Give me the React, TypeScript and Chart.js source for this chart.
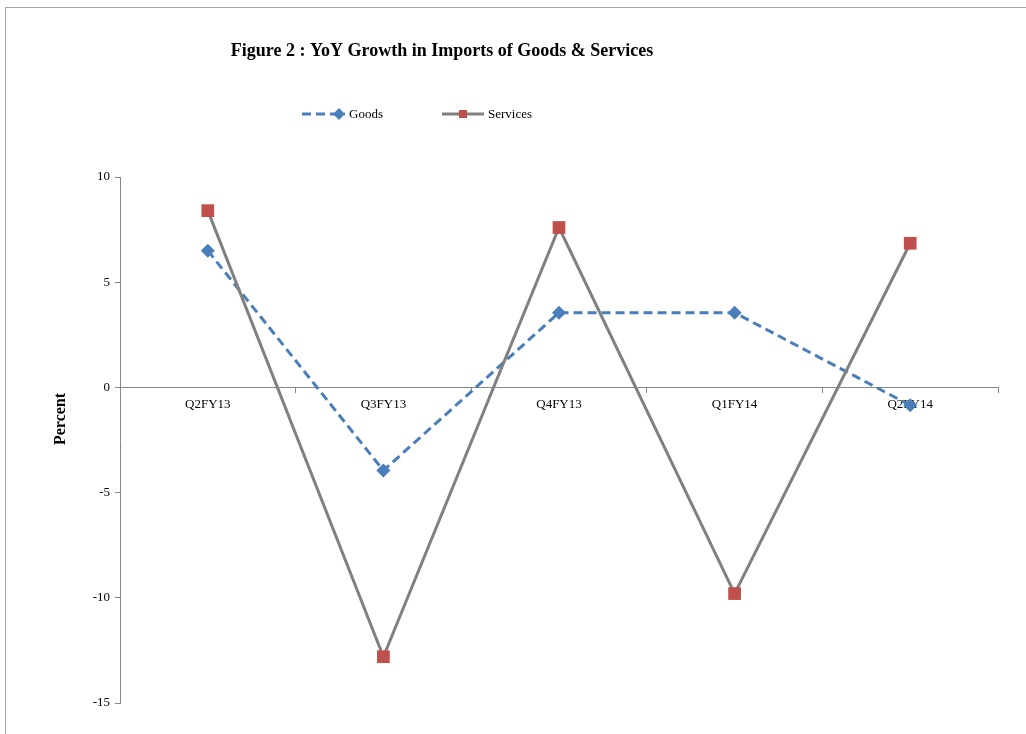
import React, { useEffect, useRef } from "react";
import { Chart, registerables } from "chart.js";

Chart.register(...registerables);

const categories = ["Q2FY13", "Q3FY13", "Q4FY13", "Q1FY14", "Q2FY14"];
const goods = [6.5, -3.95, 3.55, 3.55, -0.85];
const services = [8.4, -12.8, 7.6, -9.8, 6.85];
const titleText = "Figure 2 : YoY Growth in Imports of Goods & Services";
const yTitle = "Percent";
const yMin = -15;
const yMax = 10;
const yStep = 5;

const SERIF = "'Liberation Serif', 'Times New Roman', serif";

const overlayPlugin = {
  id: "overlay",
  afterDraw(chart: any) {
    const ctx = chart.ctx;
    ctx.save();
    // title
    ctx.fillStyle = "#000";
    ctx.font = `bold 18px ${SERIF}`;
    ctx.textAlign = "center";
    ctx.textBaseline = "middle";
    ctx.fillText(titleText, 442, 51);
    // y title
    ctx.save();
    ctx.translate(61, 419);
    ctx.rotate(-Math.PI / 2);
    ctx.font = `bold 16px ${SERIF}`;
    ctx.fillText(yTitle, 0, 0);
    ctx.restore();
    // legend
    const items = [
      { ds: 0, x0: 302, x1: 345, mx: 339, tx: 349 },
      { ds: 1, x0: 442, x1: 484, mx: 463, tx: 488 },
    ];
    const ly = 114;
    items.forEach((it) => {
      const ds = chart.data.datasets[it.ds];
      ctx.save();
      ctx.strokeStyle = ds.borderColor;
      ctx.lineWidth = ds.borderWidth;
      ctx.setLineDash(ds.borderDash || []);
      ctx.beginPath();
      ctx.moveTo(it.x0, ly);
      ctx.lineTo(it.x1, ly);
      ctx.stroke();
      ctx.setLineDash([]);
      ctx.fillStyle = ds.pointBackgroundColor;
      ctx.beginPath();
      if (ds.pointStyle === "rectRot") {
        const r = 6;
        ctx.moveTo(it.mx - r, ly);
        ctx.lineTo(it.mx, ly - r);
        ctx.lineTo(it.mx + r, ly);
        ctx.lineTo(it.mx, ly + r);
        ctx.closePath();
      } else {
        const h = 4;
        ctx.rect(it.mx - h, ly - h, 2 * h, 2 * h);
      }
      ctx.fill();
      ctx.fillStyle = "#000";
      ctx.font = `13px ${SERIF}`;
      ctx.textAlign = "left";
      ctx.textBaseline = "middle";
      ctx.fillText(ds.label, it.tx, ly + 1);
      ctx.restore();
    });
    ctx.restore();
  },
};

export default function App() {
  const ref = useRef<HTMLCanvasElement>(null);
  useEffect(() => {
    const canvas = ref.current!;
    const chart = new Chart(canvas, {
      type: "line",
      data: {
        labels: categories,
        datasets: [
          {
            label: "Goods",
            data: goods,
            borderColor: "#4a7ebb",
            backgroundColor: "#4a7ebb",
            pointBackgroundColor: "#4a7ebb",
            pointBorderColor: "#4a7ebb",
            borderWidth: 3,
            borderDash: [9, 5],
            pointStyle: "rectRot",
            pointRadius: 7,
            pointBorderWidth: 0,
            tension: 0,
            order: 1,
          } as any,
          {
            label: "Services",
            data: services,
            borderColor: "#808080",
            backgroundColor: "#c0504d",
            pointBackgroundColor: "#c0504d",
            pointBorderColor: "#c0504d",
            borderWidth: 3,
            pointStyle: "rect",
            pointRadius: 9,
            pointBorderWidth: 0,
            tension: 0,
            order: 0,
          } as any,
        ],
      },
      options: {
        animation: false,
        responsive: false,
        layout: { padding: { top: 177, bottom: 31, left: 0, right: 28 } },
        plugins: {
          legend: { display: false },
          title: { display: false },
          tooltip: { enabled: false },
        },
        scales: {
          x: {
            position: { y: 0 } as any,
            offset: true,
            grid: {
              offset: true,
              drawOnChartArea: false,
              drawTicks: true,
              tickLength: 5,
              color: "#868686",
            },
            border: { display: true, color: "#868686", width: 1 },
            ticks: {
              color: "#000",
              font: { family: SERIF, size: 13 },
              padding: 4,
              maxRotation: 0,
            },
          },
          y: {
            min: yMin,
            max: yMax,
            afterFit: (s: any) => {
              s.width = 120;
            },
            grid: {
              drawOnChartArea: false,
              drawTicks: true,
              tickLength: 5,
              color: "#868686",
            },
            border: { display: true, color: "#868686", width: 1 },
            ticks: {
              stepSize: yStep,
              color: "#000",
              font: { family: SERIF, size: 13 },
              padding: 5,
            },
          },
        },
      },
      plugins: [overlayPlugin],
    });
    return () => chart.destroy();
  }, []);
  return (
    <div style={{ position: "fixed", left: 0, top: 0, width: 1026, height: 734, background: "#fff" }}>
      <div
        style={{
          position: "absolute",
          left: 5,
          top: 7,
          width: 1040,
          height: 760,
          border: "1px solid #a6a6a6",
          boxSizing: "border-box",
        }}
      />
      <canvas ref={ref} width={1026} height={734} style={{ position: "absolute", left: 0, top: 0 }} />
    </div>
  );
}
